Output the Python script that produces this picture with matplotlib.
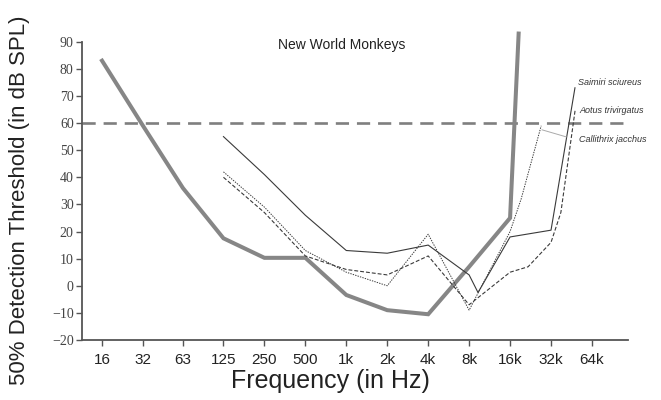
import matplotlib.pyplot as plt

# frequency ticks (Hz) and their labels
tick_hz = [16, 32, 63, 125, 250, 500, 1000, 2000, 4000, 8000, 16000, 32000, 64000]
tick_labels = ['16', '32', '63', '125', '250', '500', '1k', '2k', '4k', '8k', '16k', '32k', '64k']

# thick grey curve
thick_hz = [16, 32, 63, 125, 250, 500, 1000, 2000, 4000, 8000, 16000, 18500]
thick_db = [83, 59, 36, 17.5, 10.3, 10.3, -3.4, -9, -10.5, 7, 25, 93]

# Saimiri sciureus (thin solid)
saimiri_hz = [125, 250, 500, 1000, 2000, 4000, 8000, 9300, 16000, 32000, 48000]
saimiri_db = [55, 41, 26, 13, 12, 15, 4, -2.5, 18, 20.5, 73]

# Aotus trivirgatus (dashed)
aotus_hz = [125, 250, 500, 1000, 2000, 4000, 8000, 16000, 21700, 32000, 37800, 48200]
aotus_db = [40, 27, 11, 6, 4, 11, -7, 5, 7, 16, 27, 65]

# Callithrix jacchus (dotted)
calli_hz = [125, 250, 500, 1000, 2000, 4000, 8000, 16000, 19300, 27100]
calli_db = [42, 29, 13, 5, 0, 19, -9, 20, 32, 59]

plt.rcParams['font.family'] = ['Liberation Sans', 'DejaVu Sans']

fig = plt.figure(figsize=(6.61, 4.0), dpi=100)
ax = fig.add_axes([82 / 661, 0.15, 546 / 661, 0.8])

ax.set_xscale('log', base=2)
ax.set_xlim(11.4, 117800)
ax.set_ylim(-20, 98)

ax.axhline(60, color='#7f7f7f', lw=1.9, dashes=(5, 3))

ax.plot(thick_hz, thick_db, color='#868686', lw=2.9, solid_joinstyle='miter')
ax.plot(saimiri_hz, saimiri_db, color='#3a3a3a', lw=0.8)
ax.plot(aotus_hz, aotus_db, color='#3a3a3a', lw=0.8, dashes=(3.5, 1.8))
ax.plot(calli_hz, calli_db, color='#3a3a3a', lw=0.7, dashes=(1.4, 1.2))

# species labels
ax.text(50600, 74.8, 'Saimiri sciureus', fontsize=6.5, style='italic', color='#333333', va='center')
ax.text(52000, 64.5, 'Aotus trivirgatus', fontsize=6.5, style='italic', color='#333333', va='center')
ax.text(51500, 54, 'Callithrix jacchus', fontsize=6.5, style='italic', color='#333333', va='center')
ax.plot([27500, 41400], [57.5, 54.9], color='#aaaaaa', lw=0.7)

ax.text(0.476, 0.922, 'New World Monkeys', transform=ax.transAxes, fontsize=10,
        ha='center', va='center', color='#222222')

ax.set_xticks(tick_hz)
ax.set_xticklabels(tick_labels)
ax.minorticks_off()
ax.set_yticks(range(-20, 91, 10))
for lab in ax.get_yticklabels():
    lab.set_family(['Liberation Serif', 'DejaVu Serif'])
ax.tick_params(axis='y', labelsize=10, length=4, width=1, color='#555555', pad=2, labelcolor='#444444')
ax.tick_params(axis='x', labelsize=11, length=4, width=1, color='#555555', pad=5, labelcolor='#222222')

for s in ['top', 'right']:
    ax.spines[s].set_visible(False)
ax.spines['left'].set_bounds(-20, 90)
ax.spines['left'].set_color('#555555')
ax.spines['bottom'].set_color('#555555')
ax.spines['left'].set_linewidth(1.3)
ax.spines['bottom'].set_linewidth(1.3)

fig.text(330 / 661, 1 - 381 / 400, 'Frequency (in Hz)', fontsize=18, ha='center', va='center', color='#222222')
fig.text(20 / 661, 0.5, '50% Detection Threshold (in dB SPL)', fontsize=16, rotation=90,
         ha='center', va='center', color='#222222')

plt.savefig('out.png', dpi=100)
